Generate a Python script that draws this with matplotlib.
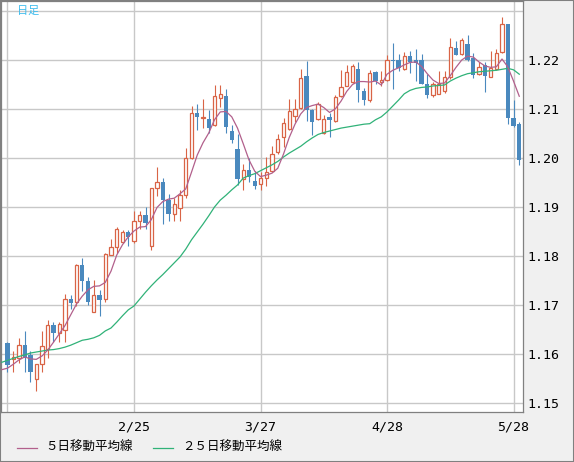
import matplotlib.pyplot as plt
from matplotlib.lines import Line2D
from matplotlib.patches import Rectangle

# daily candles (oldest first)
opens = [1.1623, 1.1590, 1.1591, 1.1618, 1.1597, 1.1548, 1.1580, 1.1610, 1.1659, 1.1642,
         1.1648, 1.1713, 1.1706, 1.1782, 1.1749, 1.1685, 1.1721, 1.1713, 1.1803, 1.1818,
         1.1828, 1.1849, 1.1830, 1.1871, 1.1883, 1.1820, 1.1939, 1.1951, 1.1914, 1.1885,
         1.1898, 1.1925, 1.1999, 1.2091, 1.2082, 1.2080, 1.2067, 1.2122, 1.2127, 1.2056,
         1.2019, 1.1958, 1.1975, 1.1954, 1.1947, 1.1960, 1.1973, 1.2012, 1.2042, 1.2060,
         1.2086, 1.2102, 1.2168, 1.2097, 1.2080, 1.2050, 1.2083, 1.2076, 1.2126, 1.2147,
         1.2156, 1.2182, 1.2137, 1.2118, 1.2175, 1.2156, 1.2159, 1.2200, 1.2199, 1.2182,
         1.2208, 1.2200, 1.2200, 1.2152, 1.2128, 1.2131, 1.2137, 1.2165, 1.2225, 1.2212,
         1.2232, 1.2205, 1.2172, 1.2189, 1.2166, 1.2182, 1.2216, 1.2273, 1.2081, 1.2070]
highs = [1.1625, 1.1607, 1.1632, 1.1646, 1.1606, 1.1580, 1.1646, 1.1670, 1.1665, 1.1665,
         1.1723, 1.1721, 1.1783, 1.1796, 1.1758, 1.1751, 1.1731, 1.1806, 1.1834, 1.1860,
         1.1854, 1.1854, 1.1892, 1.1892, 1.1899, 1.1939, 1.1982, 1.1960, 1.1927, 1.1918,
         1.1934, 1.2021, 1.2107, 1.2111, 1.2120, 1.2097, 1.2149, 1.2149, 1.2141, 1.2067,
         1.2048, 1.1988, 1.1999, 1.1973, 1.1971, 1.2002, 1.2025, 1.2048, 1.2082, 1.2120,
         1.2120, 1.2181, 1.2198, 1.2100, 1.2114, 1.2088, 1.2092, 1.2129, 1.2180, 1.2190,
         1.2192, 1.2196, 1.2143, 1.2180, 1.2177, 1.2177, 1.2210, 1.2235, 1.2212, 1.2216,
         1.2218, 1.2222, 1.2213, 1.2171, 1.2155, 1.2177, 1.2177, 1.2244, 1.2238, 1.2244,
         1.2251, 1.2214, 1.2196, 1.2195, 1.2218, 1.2223, 1.2287, 1.2274, 1.2118, 1.2073]
lows = [1.1564, 1.1563, 1.1582, 1.1563, 1.1543, 1.1525, 1.1563, 1.1592, 1.1625, 1.1624,
        1.1625, 1.1691, 1.1698, 1.1728, 1.1700, 1.1685, 1.1678, 1.1706, 1.1801, 1.1806,
        1.1827, 1.1820, 1.1827, 1.1856, 1.1856, 1.1813, 1.1922, 1.1865, 1.1871, 1.1871,
        1.1871, 1.1918, 1.1997, 1.2058, 1.2061, 1.2051, 1.2065, 1.2105, 1.2050, 1.2031,
        1.1944, 1.1934, 1.1951, 1.1936, 1.1935, 1.1943, 1.1971, 1.2008, 1.2023, 1.2058,
        1.2073, 1.2100, 1.2075, 1.2046, 1.2078, 1.2048, 1.2043, 1.2073, 1.2124, 1.2146,
        1.2154, 1.2115, 1.2108, 1.2114, 1.2152, 1.2147, 1.2157, 1.2140, 1.2177, 1.2180,
        1.2174, 1.2158, 1.2150, 1.2123, 1.2125, 1.2131, 1.2133, 1.2162, 1.2210, 1.2210,
        1.2198, 1.2164, 1.2169, 1.2134, 1.2166, 1.2180, 1.2215, 1.2070, 1.2063, 1.1986]
closes = [1.1578, 1.1593, 1.1618, 1.1591, 1.1564, 1.1580, 1.1616, 1.1659, 1.1642, 1.1661,
          1.1712, 1.1704, 1.1782, 1.1748, 1.1706, 1.1721, 1.1711, 1.1804, 1.1818, 1.1856,
          1.1849, 1.1838, 1.1871, 1.1883, 1.1868, 1.1939, 1.1951, 1.1914, 1.1885, 1.1906,
          1.1925, 1.1999, 1.2092, 1.2084, 1.2084, 1.2061, 1.2127, 1.2131, 1.2063, 1.2036,
          1.1958, 1.1976, 1.1961, 1.1943, 1.1960, 1.1972, 1.2008, 1.2039, 1.2072, 1.2095,
          1.2100, 1.2163, 1.2097, 1.2073, 1.2110, 1.2080, 1.2077, 1.2124, 1.2145, 1.2175,
          1.2187, 1.2139, 1.2118, 1.2174, 1.2157, 1.2160, 1.2200, 1.2197, 1.2184, 1.2208,
          1.2195, 1.2193, 1.2152, 1.2128, 1.2152, 1.2152, 1.2165, 1.2227, 1.2210, 1.2241,
          1.2200, 1.2169, 1.2186, 1.2167, 1.2184, 1.2215, 1.2274, 1.2082, 1.2065, 1.1995]

# moving averages, first value is the day before the first candle
ma5 = [1.1568, 1.1571, 1.1579, 1.1588, 1.1594, 1.1590, 1.1589, 1.1596, 1.1608, 1.1624, 1.1641,
       1.1658, 1.1680, 1.1702, 1.1718, 1.1731, 1.1738, 1.1739, 1.1746, 1.1769, 1.1802,
       1.1823, 1.1839, 1.1851, 1.1859, 1.1860, 1.1874, 1.1899, 1.1911, 1.1916, 1.1918,
       1.1927, 1.1937, 1.1971, 1.2006, 1.2031, 1.2051, 1.2078, 1.2094, 1.2095, 1.2084,
       1.2061, 1.2029, 1.1996, 1.1973, 1.1962, 1.1965, 1.1969, 1.1979, 1.2008, 1.2042,
       1.2069, 1.2090, 1.2103, 1.2107, 1.2110, 1.2103, 1.2093, 1.2100, 1.2116, 1.2136,
       1.2150, 1.2156, 1.2156, 1.2155, 1.2157, 1.2149, 1.2171, 1.2179, 1.2184, 1.2190,
       1.2195, 1.2196, 1.2187, 1.2172, 1.2159, 1.2152, 1.2153, 1.2168, 1.2185, 1.2200,
       1.2208, 1.2206, 1.2196, 1.2188, 1.2185, 1.2186, 1.2202, 1.2186, 1.2157, 1.2126]
ma25 = [1.1583, 1.1587, 1.1591, 1.1595, 1.1598, 1.1602, 1.1604, 1.1606, 1.1608, 1.1609, 1.1611,
        1.1614, 1.1618, 1.1623, 1.1628, 1.1630, 1.1633, 1.1638, 1.1647, 1.1653, 1.1665,
        1.1678, 1.1690, 1.1698, 1.1712, 1.1726, 1.1739, 1.1751, 1.1762, 1.1774, 1.1786,
        1.1798, 1.1814, 1.1833, 1.1849, 1.1865, 1.1882, 1.1900, 1.1914, 1.1924, 1.1935,
        1.1945, 1.1959, 1.1964, 1.1968, 1.1974, 1.1980, 1.1986, 1.1993, 1.2002, 1.2010,
        1.2017, 1.2024, 1.2033, 1.2041, 1.2048, 1.2052, 1.2055, 1.2058, 1.2061, 1.2063,
        1.2065, 1.2067, 1.2069, 1.2070, 1.2078, 1.2084, 1.2094, 1.2106, 1.2118, 1.2131,
        1.2138, 1.2142, 1.2144, 1.2145, 1.2147, 1.2148, 1.2149, 1.2157, 1.2163, 1.2168,
        1.2172, 1.2174, 1.2176, 1.2177, 1.2178, 1.2179, 1.2181, 1.2183, 1.2180, 1.2171]

date_pos = [0, 22, 44, 66, 88]
date_labels = ['', '2/25', '3/27', '4/28', '5/28']
price_ticks = [1.15, 1.16, 1.17, 1.18, 1.19, 1.20, 1.21, 1.22, 1.23]
price_labels = ['1.15', '1.16', '1.17', '1.18', '1.19', '1.20', '1.21', '1.22', '']

UP = '#d96446'
DOWN = '#4a89be'
MA5_C = '#b2608c'
MA25_C = '#30b278'
JP = ['Noto Sans CJK JP', 'DejaVu Sans']

fig = plt.figure(figsize=(5.74, 4.62), dpi=100, facecolor='#f0f0f0')
ax = fig.add_axes([1 / 574, 50 / 462, 522 / 574, 411 / 462])
ax.set_facecolor('white')

n = len(closes)
xs = list(range(n))
for i in xs:
    o, h, l, c = opens[i], highs[i], lows[i], closes[i]
    up = c >= o
    col = UP if up else DOWN
    ax.vlines(i, l, h, color=col, lw=0.8, zorder=3)
    body = max(abs(c - o), 0.00008)
    if up:
        ax.bar(i, body, width=0.57, bottom=min(o, c), facecolor='white',
               edgecolor=col, linewidth=0.9, zorder=4)
    else:
        ax.bar(i, body, width=0.75, bottom=min(o, c), color=col,
               linewidth=0, zorder=4)

ma_x = list(range(-1, n))
ax.plot(ma_x, ma25, color=MA25_C, lw=0.9, zorder=5)
ax.plot(ma_x, ma5, color=MA5_C, lw=0.9, zorder=5)

ax.set_xlim(-1.13, 89.65)
ax.set_ylim(1.14816, 1.23204)
ax.set_xticks(date_pos)
ax.set_xticklabels(date_labels)
ax.set_yticks(price_ticks)
ax.set_yticklabels(price_labels)
ax.yaxis.tick_right()
ax.grid(True, color='#c8c8c8', lw=1.0, zorder=0)
ax.set_axisbelow(True)
ax.tick_params(axis='both', length=0, labelsize=9.5, colors='black')
ax.tick_params(axis='x', pad=6)
ax.tick_params(axis='y', pad=3)
for lab in ax.get_xticklabels() + ax.get_yticklabels():
    lab.set_family('DejaVu Sans Mono')
for s in ax.spines.values():
    s.set_color('#808080')
    s.set_linewidth(0.9)

fig.text(17 / 574, 1 - 10.5 / 462, '日足', color='#3cbcee', fontsize=8,
         family=JP, va='center', ha='left')

# legend at the bottom
ly = 1 - 447.5 / 462
fig.add_artist(Line2D([16.5 / 574, 36.6 / 574], [ly, ly], color=MA5_C, lw=0.9))
fig.text(45.5 / 574, ly, '５日移動平均線', fontsize=9, family=JP, va='center', ha='left')
fig.add_artist(Line2D([153 / 574, 173 / 574], [ly, ly], color=MA25_C, lw=0.9))
fig.text(182 / 574, ly, '２５日移動平均線', fontsize=9, family=JP, va='center', ha='left')

fig.add_artist(Rectangle((0, 0), 1, 1, transform=fig.transFigure, fill=False,
                         edgecolor='#808080', lw=1.5))

fig.savefig('out.png', dpi=100, facecolor=fig.get_facecolor())
